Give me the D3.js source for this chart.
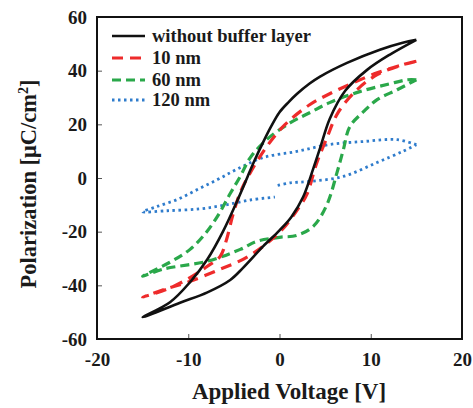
<!DOCTYPE html>
<html>
<head>
<meta charset="utf-8">
<script src="https://cdn.jsdelivr.net/npm/d3@7"></script>
<style>
body { margin: 0; background: #fff; }
text { font-family: "Liberation Serif", "Times New Roman", serif; font-weight: bold; fill: #1a1a1a; }
</style>
</head>
<body>
<svg id="chart" width="473" height="408"></svg>
<script>
// P-E loops, [voltage V, polarization uC/cm2]
// each loop: +15 V down to -15 V, then back up to +15 V
var noBuffer = [
  [15,51.5],[13.5,50.4],[11,47.8],[7.4,42.9],[4.4,37.7],[3.3,35.2],[1.9,31.3],[1,28.3],[0,24.5],
  [-0.9,19.3],[-1.8,13.3],[-2.7,6.8],[-3.5,0.5],[-4.5,-7.5],[-6.2,-20],[-7.9,-30.3],[-9.8,-38.8],[-12,-46.3],[-15,-51.9],
  [-10.9,-46.5],[-7.9,-42.6],[-5.4,-38],[-4,-33.5],[-1.8,-25.5],[0,-19.5],[1.3,-14.5],[2.6,-7],
  [3.7,3.5],[4.5,11.7],[5.5,22],[7.2,32.5],[9.6,40.3],[12.1,46],[15,51.5]
];
var buf10 = [
  [15,43.5],[13.5,42.2],[10.7,39.2],[8.1,35.5],[5.5,31.4],[3.3,27.3],[0.6,19.9],[-1.4,11.7],
  [-3.2,2],[-4.3,-5.4],[-5.1,-13.6],[-5.8,-22.9],[-6.5,-29.2],[-7.9,-32.9],[-10.1,-37.7],[-12.3,-41.4],[-15,-44.4],
  [-12.5,-41.4],[-9.8,-38.5],[-6.5,-34],[-4,-30.3],[-1.8,-25.5],[0.4,-18.8],[2.2,-10.6],[3,-6.1],
  [4.1,5.8],[5.2,15],[6.4,24.3],[8.5,32.9],[10.7,38.5],[13.5,42.2],[15,43.5]
];
var buf60 = [
  [15,36.6],[14,36.6],[12.1,35.1],[8.8,32.2],[5.5,28.1],[3.3,24.3],[1.2,20.6],[-1.4,14.3],
  [-3.2,7.6],[-4.3,0.6],[-5.4,-5.8],[-6.8,-14.3],[-8.2,-21],[-9.8,-26.6],[-12,-31.4],[-15,-36.6],
  [-12.8,-34],[-7.9,-31],[-4.3,-26.6],[-2.5,-23.6],[0,-22.1],[1.9,-21.4],[3.7,-18],[5.2,-9.9],
  [6.3,2],[7,10.6],[7.7,19.1],[9.2,24.7],[10.7,29.2],[12.9,32.9],[15,36.6]
];
// null marks the jump in the 120 nm trace near 0 V
var buf120 = [
  [15,12.4],[12.9,14.3],[9.2,13.6],[5.5,12.5],[1.9,9.9],[-1.8,7.6],[-4.7,3.2],[-6.8,-0.6],
  [-9,-4.3],[-11.2,-8],[-13.4,-10.6],[-15,-12.6],
  [-12.3,-12.2],[-8.7,-11.5],[-6,-10.1],[-3.2,-8.2],[-0.5,-7.1],null,
  [-0.2,-2.8],[1.2,-1.8],[3.3,-1.3],[7,0.6],[10.7,5.8],[13.5,9.9],[15,12.4]
];

var seriesNames = ["without buffer layer", "10 nm", "60 nm", "120 nm"];
var seriesData = [noBuffer, buf10, buf60, buf120];
var seriesColors = ["#111111", "#ee2b2b", "#2aa84a", "#2f7ccc"];
var seriesDash = [null, "11,7", "9,5", "2.5,3.5"];
var seriesWidth = [2.6, 3.2, 3.2, 2.8];

var xTicks = [-20, -10, 0, 10, 20];
var yTicks = [-60, -40, -20, 0, 20, 40, 60];

var svg = d3.select("#chart");
var pLeft = 97, pRight = 462, pTop = 17, pBottom = 339;

var x = d3.scaleLinear().domain([-20, 20]).range([pLeft, pRight]);
var y = d3.scaleLinear().domain([-60, 60]).range([pBottom, pTop]);

// axes with inward ticks
var fmt = function(d) { return String(d); };
var xAxis = svg.append("g").attr("transform", "translate(0," + pBottom + ")")
  .call(d3.axisBottom(x).tickValues(xTicks).tickSizeInner(-5).tickSizeOuter(0).tickPadding(14).tickFormat(fmt));
var yAxis = svg.append("g").attr("transform", "translate(" + pLeft + ",0)")
  .call(d3.axisLeft(y).tickValues(yTicks).tickSizeInner(-5).tickSizeOuter(0).tickPadding(10).tickFormat(fmt));
[xAxis, yAxis].forEach(function(a) {
  a.select(".domain").remove();
  a.selectAll(".tick line").attr("stroke", "#555").attr("stroke-width", 1);
  a.selectAll(".tick text").attr("font-size", 19).style("font-family", "Liberation Serif, serif").attr("fill", "#1a1a1a");
});

// plot frame
svg.append("rect")
  .attr("x", pLeft).attr("y", pTop)
  .attr("width", pRight - pLeft).attr("height", pBottom - pTop)
  .attr("fill", "none").attr("stroke", "#111").attr("stroke-width", 2);

var line = d3.line()
  .defined(function(d) { return d !== null; })
  .x(function(d) { return x(d[0]); })
  .y(function(d) { return y(d[1]); })
  .curve(d3.curveCatmullRom.alpha(0.5));

for (var i = seriesData.length - 1; i >= 0; i--) {
  svg.append("path")
    .attr("d", line(seriesData[i]))
    .attr("fill", "none")
    .attr("stroke", seriesColors[i])
    .attr("stroke-width", seriesWidth[i])
    .attr("stroke-dasharray", seriesDash[i]);
}

// legend
var legY = [36, 58, 80, 100];
seriesNames.forEach(function(name, i) {
  svg.append("line")
    .attr("x1", 112).attr("x2", 145)
    .attr("y1", legY[i]).attr("y2", legY[i])
    .attr("stroke", seriesColors[i])
    .attr("stroke-width", seriesWidth[i])
    .attr("stroke-dasharray", seriesDash[i]);
  svg.append("text")
    .attr("x", 152).attr("y", legY[i] + 6)
    .attr("font-size", 18.5)
    .text(name);
});

// axis titles
svg.append("text")
  .attr("x", 289).attr("y", 399)
  .attr("text-anchor", "middle")
  .attr("font-size", 23)
  .text("Applied Voltage [V]");

var yt = svg.append("text")
  .attr("transform", "translate(36,184) rotate(-90)")
  .attr("text-anchor", "middle")
  .attr("font-size", 22.5);
yt.append("tspan").text("Polarization [\u03bcC/cm");
yt.append("tspan").attr("font-size", 14).attr("dy", -8).text("2");
yt.append("tspan").attr("dy", 8).text("]");
</script>
</body>
</html>
